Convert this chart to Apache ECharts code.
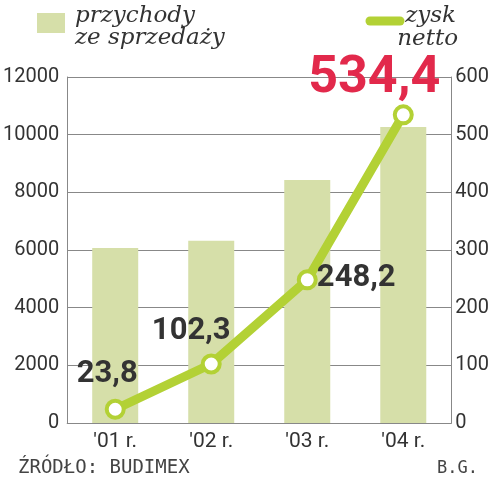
<!DOCTYPE html>
<html>
<head>
<meta charset="utf-8">
<script src="https://cdn.jsdelivr.net/npm/echarts@6/dist/echarts.min.js"></script>
<style>html,body{margin:0;padding:0;background:#fff}#c{width:492px;height:480px}</style>
</head>
<body>
<div id="c"></div>
<script>
const categories = ["'01 r.", "'02 r.", "'03 r.", "'04 r."];
const revenue = [6070, 6320, 8430, 10270];
const netProfit = [23.8, 102.3, 248.2, 534.4];
const profitLabels = ['23,8', '102,3', '248,2', '534,4'];

const chart = echarts.init(document.getElementById('c'), null, {renderer: 'canvas'});
const numFont = 'Roboto, "DejaVu Sans", sans-serif';
const green = '#b3d135';
const labelCfg = [
  {offset: [-8, -35], color: '#333', fontSize: 31},
  {offset: [-20, -33], color: '#333', fontSize: 31},
  {offset: [49, -2], color: '#333', fontSize: 31},
  {offset: [-29, -36], color: '#e2294b', fontSize: 52}
];
const lineData = netProfit.map((v, i) => ({
  value: v,
  label: {
    show: true, position: 'inside', offset: labelCfg[i].offset,
    color: labelCfg[i].color, fontSize: labelCfg[i].fontSize,
    fontWeight: 'bold', fontFamily: numFont,
    formatter: () => profitLabels[i]
  }
}));

chart.setOption({
  animation: false,
  grid: {left: 63, right: 39, top: 77, bottom: 57},
  xAxis: {
    type: 'category', data: categories,
    axisLine: {lineStyle: {color: '#888', width: 1}},
    axisTick: {show: false},
    axisLabel: {color: '#333', fontSize: 21, fontFamily: numFont, margin: 8}
  },
  yAxis: [
    {
      type: 'value', min: 0, max: 12000, interval: 2000,
      axisLine: {show: true, lineStyle: {color: '#888', width: 1}},
      axisTick: {show: false},
      splitLine: {lineStyle: {color: '#888', width: 1}},
      axisLabel: {color: '#333', fontSize: 20, fontFamily: numFont, margin: 8, formatter: v => String(v)}
    },
    {
      type: 'value', min: 0, max: 600, interval: 100,
      axisLine: {show: true, lineStyle: {color: '#888', width: 1}},
      axisTick: {show: false},
      splitLine: {show: false},
      axisLabel: {color: '#333', fontSize: 20, fontFamily: numFont, margin: 4, formatter: v => String(v)}
    }
  ],
  series: [
    {
      type: 'bar', data: revenue, barWidth: 46, yAxisIndex: 0,
      itemStyle: {color: '#d6dfa9'}
    },
    {
      type: 'line', data: lineData, yAxisIndex: 1,
      lineStyle: {color: green, width: 9},
      symbol: 'circle', symbolSize: 17,
      itemStyle: {color: '#fff', borderColor: green, borderWidth: 4},
      z: 5
    }
  ],
  graphic: [
    {type: 'rect', shape: {x: 37, y: 13, width: 28, height: 20}, style: {fill: '#d6dfa9'}},
    {type: 'text', x: 75, y: 28, style: {text: 'przychody', font: 'italic 23px "DejaVu Serif", serif', fill: '#333', textVerticalAlign: 'bottom'}},
    {type: 'text', x: 75, y: 50, style: {text: 'ze sprzedaży', font: 'italic 23px "DejaVu Serif", serif', fill: '#333', textVerticalAlign: 'bottom'}},
    {type: 'line', shape: {x1: 370, y1: 21, x2: 400, y2: 21}, style: {stroke: green, lineWidth: 9, lineCap: 'round'}},
    {type: 'text', x: 456, y: 28, style: {text: 'zysk', font: 'italic 23px "DejaVu Serif", serif', fill: '#333', textAlign: 'right', textVerticalAlign: 'bottom'}},
    {type: 'text', x: 458, y: 51, style: {text: 'netto', font: 'italic 23px "DejaVu Serif", serif', fill: '#333', textAlign: 'right', textVerticalAlign: 'bottom'}},
    {type: 'text', x: 18, y: 468, style: {text: 'ŹRÓDŁO: BUDIMEX', font: '19px "DejaVu Sans Mono", monospace', fill: '#444', textVerticalAlign: 'middle'}},
    {type: 'text', x: 478, y: 469, style: {text: 'B.G.', font: '17px "DejaVu Sans Mono", monospace', fill: '#444', textAlign: 'right', textVerticalAlign: 'middle'}}
  ]
});
</script>
</body>
</html>
